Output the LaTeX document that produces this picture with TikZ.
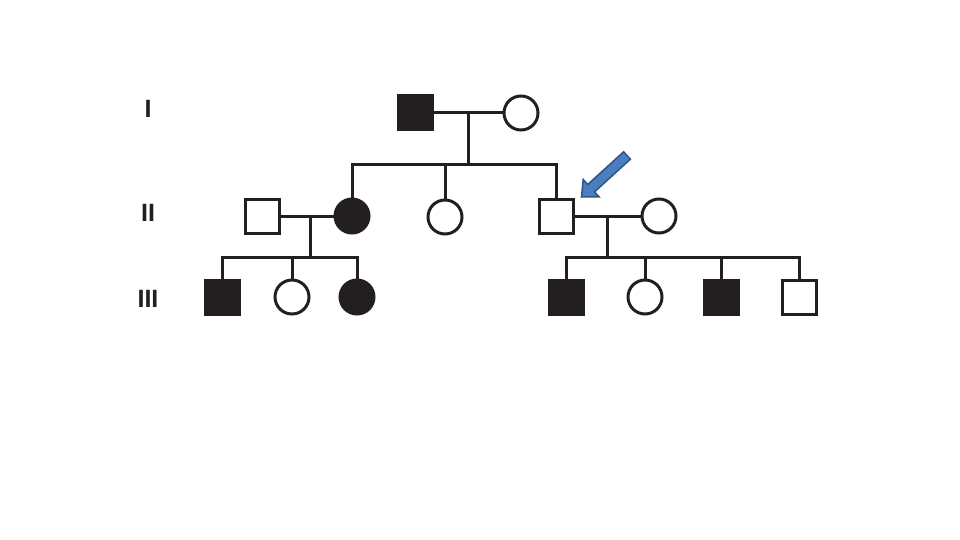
\documentclass[tikz,border=0pt]{standalone}
\usepackage{fontspec}
\setmainfont{Liberation Sans}
\definecolor{arrowfill}{HTML}{4A7EBF}
\definecolor{arrowline}{HTML}{2F5585}
\definecolor{ink}{HTML}{231F20}
\begin{document}
\begin{tikzpicture}[x=1pt,y=-1pt,
  line/.style={draw=ink,line width=3pt},
  male/.style={rectangle,draw=ink,line width=3pt,minimum size=34pt,inner sep=0pt,fill=white},
  female/.style={circle,draw=ink,line width=3pt,minimum size=34pt,inner sep=0pt,fill=white},
  aff/.style={fill=ink},
  gen/.style={font=\bfseries\fontsize{25}{25}\selectfont,text=ink,inner sep=0pt}]
\useasboundingbox (0,0) rectangle (960,540);
% generation labels
\node[gen] (gI) at (148,109) {I};
\node[gen] (gII) at (148,213) {II};
\node[gen] (gIII) at (148,299) {III};
% coordinates
\coordinate (m1) at (468,113);
\coordinate (s1) at (468,165);
\coordinate (m2) at (310,216);
\coordinate (s2) at (310,257);
\coordinate (m3) at (607,216);
\coordinate (s3) at (607,257);
% generation I
\node[male,aff] (I1) at (415,113) {};
\node[female] (I2) at (521,113) {};
% generation II
\node[male] (II1) at (262,216) {};
\node[female,aff] (II2) at (352,216) {};
\node[female] (II3) at (445,217) {};
\node[male] (II4) at (556,216) {};
\node[female] (II5) at (659,216) {};
% generation III
\node[male,aff] (III1) at (222,297) {};
\node[female] (III2) at (292,297) {};
\node[female,aff] (III3) at (357,297) {};
\node[male,aff] (III4) at (566,297) {};
\node[female] (III5) at (645,297) {};
\node[male,aff] (III6) at (721,297) {};
\node[male] (III7) at (799,297) {};
% lines generation I
\draw[line] (I1.east) -- (I2.west);
\draw[line] (m1) -- (s1);
\draw[line,line join=miter] (II2.north) |- (s1) -| (II4.north);
\draw[line] (II3.north) -- (II3.north |- s1);
% lines left family
\draw[line] (II1.east) -- (II2.west);
\draw[line] (m2) -- (s2);
\draw[line,line join=miter] (III1.north) |- (s2) -| (III3.north);
\draw[line] (III2.north) -- (III2.north |- s2);
% lines right family
\draw[line] (II4.east) -- (II5.west);
\draw[line] (m3) -- (s3);
\draw[line,line join=miter] (III4.north) |- (s3) -| (III7.north);
\draw[line] (III5.north) -- (III5.north |- s3);
\draw[line] (III6.north) -- (III6.north |- s3);
% arrow
\draw[fill=arrowfill,draw=arrowline,line width=1.5pt,line join=miter]
  (581.5,197) -- (599.1,196.9) -- (594.5,191.9) -- (630.4,159.2)
  -- (623.6,151.8) -- (587.7,184.5) -- (583.2,179.5) -- cycle;
\end{tikzpicture}
\end{document}
